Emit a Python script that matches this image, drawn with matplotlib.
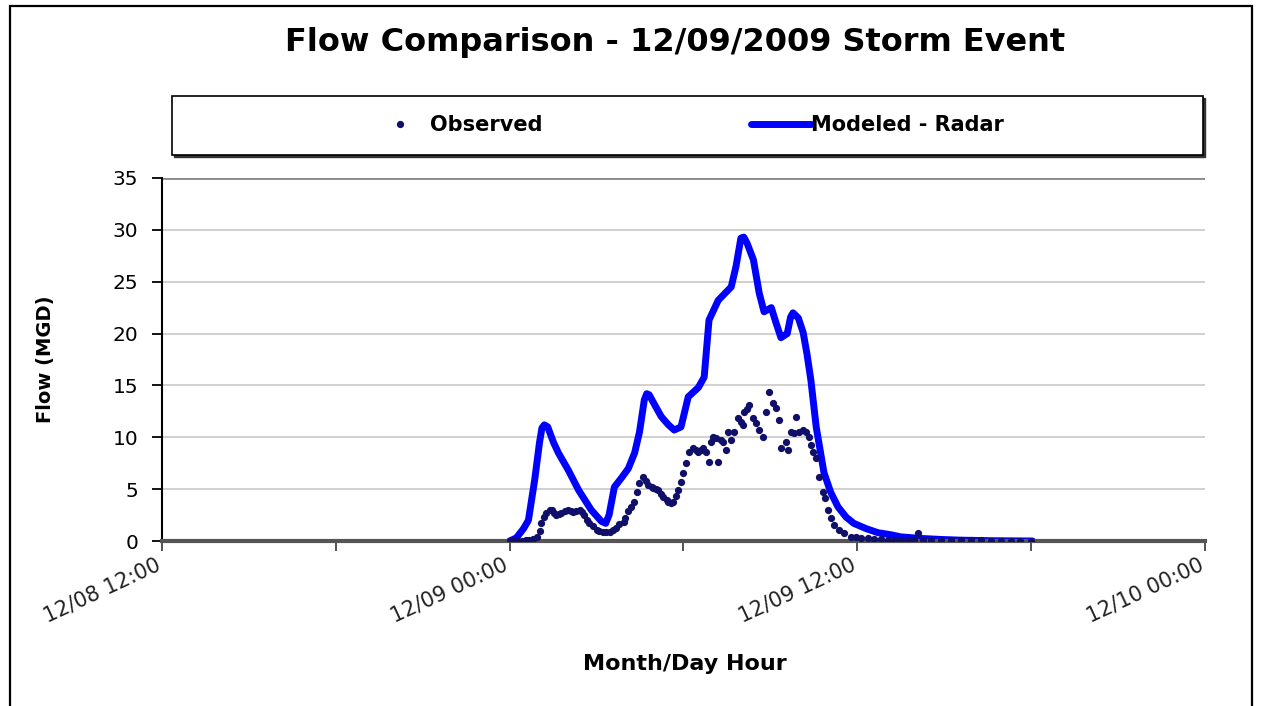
''' Flow comparison chart for the 12/09/2009 storm event '''

import numpy as np
import pandas as pd
import matplotlib
matplotlib.use("Agg")
import matplotlib.pyplot as plt
import matplotlib.dates as mdates
import matplotlib.transforms as mtransforms
from matplotlib.patches import Rectangle

'''Data (minutes after 12/09 00:00, flow in MGD)'''

obs_min = [0, 8, 17, 25, 33, 41, 48, 56, 62, 66, 72, 76, 83, 87, 93, 97, 103, 107,
           114, 122, 128, 132, 138, 145, 151, 155, 161, 165, 172, 180, 186, 194, 200,
           207, 215, 221, 227, 236, 240, 246, 252, 258, 263, 269, 277, 283, 287, 294,
           298, 304, 308, 314, 318, 325, 329, 335, 339, 345, 349, 356, 360, 366, 372,
           380, 387, 391, 397, 401, 407, 413, 418, 422, 428, 432, 438, 442, 449, 453,
           459, 465, 473, 480, 484, 486, 492, 496, 504, 511, 517, 525, 531, 537, 546,
           552, 558, 562, 573, 577, 583, 589, 593, 599, 608, 614, 620, 624, 628, 635,
           641, 649, 653, 659, 666, 672, 682, 692, 707, 717, 728, 742, 754, 769, 783,
           796, 810, 825, 837, 845, 856, 872, 893, 914, 934, 955, 976, 996, 1017, 1038,
           1058, 1079]
obs_flow = [0.0, 0.0, 0.0, 0.0, 0.05, 0.1, 0.2, 0.4, 1.0, 1.7, 2.3, 2.7, 3.0, 3.0, 2.7,
            2.5, 2.6, 2.7, 2.9, 3.0, 2.9, 2.8, 2.9, 3.0, 2.8, 2.5, 2.0, 1.7, 1.4, 1.1,
            1.0, 0.9, 0.9, 0.9, 1.1, 1.3, 1.6, 1.8, 2.2, 2.9, 3.3, 3.8, 4.7, 5.6, 6.2,
            5.8, 5.4, 5.2, 5.1, 5.0, 4.9, 4.5, 4.2, 4.0, 3.8, 3.7, 3.8, 4.3, 4.9, 5.7,
            6.6, 7.5, 8.6, 9.0, 8.8, 8.6, 8.8, 9.0, 8.6, 7.6, 9.5, 10.0, 9.9, 7.6, 9.7,
            9.5, 8.8, 10.5, 9.7, 10.5, 11.9, 11.5, 11.2, 12.4, 12.7, 13.1, 11.9, 11.4,
            10.7, 10.0, 12.4, 14.4, 13.3, 12.8, 11.7, 9.0, 9.5, 8.8, 10.5, 10.4, 12.0,
            10.5, 10.7, 10.5, 10.0, 9.3, 8.6, 8.0, 6.2, 4.7, 4.1, 3.0, 2.2, 1.5, 1.1,
            0.8, 0.4, 0.35, 0.3, 0.25, 0.2, 0.15, 0.12, 0.1, 0.1, 0.08, 0.1, 0.8, 0.1,
            0.08, 0.07, 0.06, 0.05, 0.05, 0.05, 0.04, 0.04, 0.03, 0.03, 0.03]

mod_min = [0, 14, 29, 39, 52, 62, 67, 72, 79, 91, 101, 122, 143, 169, 190, 199, 206, 217,
           232, 246, 259, 269, 279, 284, 289, 302, 314, 329, 341, 355, 370, 391, 403, 413,
           432, 459, 469, 479, 485, 492, 505, 517, 527, 542, 552, 562, 575, 582, 587,
           598, 608, 616, 624, 635, 651, 665, 680, 697, 713, 738, 763, 790, 810, 851,
           893, 934, 996, 1083]
mod_flow = [0.0, 0.3, 1.2, 2.0, 5.9, 9.5, 10.9, 11.2, 11.0, 9.5, 8.5, 6.8, 4.9, 3.0, 1.9,
            1.7, 2.5, 5.2, 6.1, 7.0, 8.5, 10.5, 13.6, 14.2, 14.1, 13.0, 12.0, 11.2,
            10.7, 11.0, 13.9, 14.8, 15.8, 21.3, 23.2, 24.5, 26.5, 29.2, 29.3, 28.7,
            27.1, 23.9, 22.1, 22.5, 21.0, 19.6, 20.0, 21.6, 22.0, 21.5, 20.1, 18.0,
            15.5, 11.0, 6.6, 4.7, 3.3, 2.3, 1.7, 1.2, 0.8, 0.6, 0.4, 0.25, 0.15, 0.08,
            0.03, 0.0]

t0 = pd.Timestamp("2009-12-09 00:00")
obs_t = t0 + pd.to_timedelta(obs_min, unit="min")
mod_t = t0 + pd.to_timedelta(mod_min, unit="min")

'''Plot'''

fig = plt.figure(figsize=(12.65, 7.06), dpi=100)
ax = fig.add_axes([0.128, 0.2337, 0.8245, 0.5142])

ax.plot(obs_t, obs_flow, linestyle="none", marker="o", markersize=4.2,
        color="#10106a", label="Observed", zorder=3)
ax.plot(mod_t, mod_flow, color="#0000ff", lw=5, solid_joinstyle="round",
        solid_capstyle="round", label="Modeled - Radar", zorder=2)

ax.set_xlim(pd.Timestamp("2009-12-08 12:00"), pd.Timestamp("2009-12-10 00:00"))
ax.set_ylim(0, 35)
ax.set_yticks(np.arange(0, 36, 5))
ax.xaxis.set_major_locator(mdates.HourLocator(byhour=[0, 12]))
ax.xaxis.set_minor_locator(mdates.HourLocator(byhour=[6, 18]))
ax.xaxis.set_major_formatter(mdates.DateFormatter("%m/%d %H:%M"))

ax.grid(True, axis="y", color="#c8c8c8", lw=1.2)
ax.set_axisbelow(True)
for s in ["top", "right"]:
    ax.spines[s].set_visible(False)
ax.spines["left"].set_color("black")
ax.spines["left"].set_linewidth(1.5)
ax.spines["bottom"].set_color("#555555")
ax.spines["bottom"].set_linewidth(3)
ax.axhline(35, color="#888888", lw=2, zorder=1)

ax.tick_params(axis="y", length=7, width=1.3, pad=10, labelsize=14.5)
ax.tick_params(axis="x", which="both", length=7, width=1.3, color="#444444")
ax.tick_params(axis="x", which="major", pad=3, labelsize=15, labelcolor="#222222")
shift = mtransforms.ScaledTranslation(-7 / 100, 0, fig.dpi_scale_trans)
for lab in ax.get_xticklabels():
    lab.set_rotation(25)
    lab.set_ha("right")
    lab.set_rotation_mode("anchor")
    lab.set_transform(lab.get_transform() + shift)

ax.set_ylabel("Flow (MGD)", fontsize=14, fontweight="bold", va="center")
ax.yaxis.set_label_coords(-0.112, 0.5)
ax.set_xlabel("Month/Day Hour", fontsize=16, fontweight="bold", va="center")
ax.xaxis.set_label_coords(0.501, -0.339)

fig.text(0.534, 0.94, "Flow Comparison - 12/09/2009 Storm Event", ha="center",
         va="center", fontsize=23, fontweight="bold")

# legend box with a small drop shadow
fig.patches.append(Rectangle((173.5 / 1265, 1 - 156.5 / 706), 1031 / 1265, 59 / 706,
                             transform=fig.transFigure, facecolor="#333333",
                             edgecolor="#333333", lw=1, zorder=0))
fig.patches.append(Rectangle((172 / 1265, 1 - 155 / 706), 1031 / 1265, 59 / 706,
                             transform=fig.transFigure, facecolor="white",
                             edgecolor="black", lw=1.2, zorder=1))
leg = fig.legend(loc="center", bbox_to_anchor=(0.543, 1 - 125 / 706), ncol=2,
                 frameon=False, handlelength=2.9, handletextpad=0.0,
                 columnspacing=10, prop={"size": 15, "weight": "bold"})

# outer chart border
fig.patches.append(Rectangle((10 / 1265, -0.02), 1242 / 1265, 1.02 - 6 / 706,
                             transform=fig.transFigure, facecolor="none",
                             edgecolor="black", lw=1.6))

fig.savefig("out.png", dpi=100)
